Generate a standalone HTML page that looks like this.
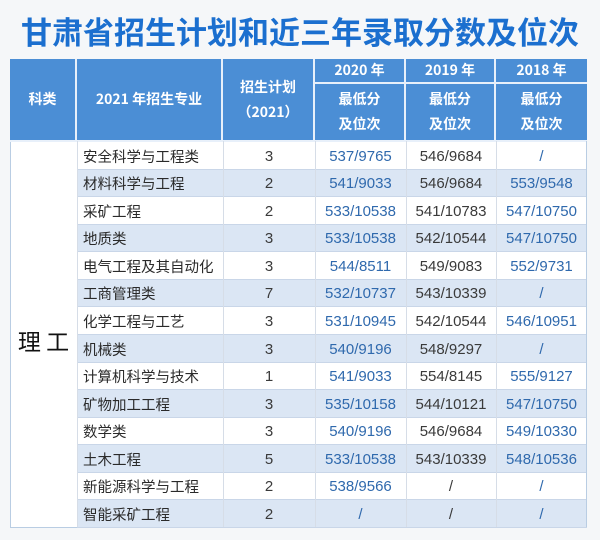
<!DOCTYPE html>
<html><head><meta charset="utf-8">
<style>
*{margin:0;padding:0;box-sizing:border-box}
body{width:600px;height:540px;background:#f5f7f9;position:relative;overflow:hidden;font-family:"Liberation Sans","Noto Sans CJK SC",sans-serif}
.title{position:absolute;left:0;top:11px;width:600px;text-align:center;font-size:31px;font-weight:bold;color:#1b6fcf;line-height:40px;letter-spacing:0px;font-family:"Noto Sans CJK SC","Liberation Sans",sans-serif}
.c{position:absolute;display:flex;align-items:center;justify-content:center;text-align:center}
.h{background:#4b8ed5;color:#fff;font-weight:bold;font-size:14px;border-right:2px solid #e8f0fa;border-bottom:2px solid #e8f0fa;font-family:"Noto Sans CJK SC","Liberation Sans",sans-serif;line-height:25px}
.r{position:absolute;left:77px;width:510px;border-bottom:1px solid #c9d6e8}
.alt{background:#dbe6f4}
.d{position:absolute;font-size:15px;display:flex;align-items:center;justify-content:center}
.nm{justify-content:flex-start;padding-left:6px;font-size:14.5px;color:#2a2a2a;font-family:"Noto Sans CJK SC","Liberation Sans",sans-serif}
.b{color:#2f69ad}
.k{color:#3a3a3a}
.vl{position:absolute;top:141px;height:386px;width:1px;background:#d6dde7}
</style></head><body>
<div class="title">甘肃省招生计划和近三年录取分数及位次</div>

<div class="c h" style="left:10px;top:59px;width:67px;height:83px">科类</div>
<div class="c h" style="left:77px;top:59px;width:146px;height:83px">2021 年招生专业</div>
<div class="c h" style="left:223px;top:59px;width:92px;height:83px">招生计划<br>（2021）</div>
<div class="c h" style="left:315px;top:59px;width:91px;height:25px">2020 年</div>
<div class="c h" style="left:406px;top:59px;width:90px;height:25px">2019 年</div>
<div class="c h" style="left:496px;top:59px;width:91px;height:25px;border-right:none">2018 年</div>
<div class="c h" style="left:315px;top:84px;width:91px;height:58px">最低分<br>及位次</div>
<div class="c h" style="left:406px;top:84px;width:90px;height:58px">最低分<br>及位次</div>
<div class="c h" style="left:496px;top:84px;width:91px;height:58px;border-right:none">最低分<br>及位次</div>

<div style="position:absolute;left:10px;top:142px;width:67px;height:386px;background:#fff;border-left:1px solid #b9cde3;border-bottom:1px solid #b9cde3"></div>
<div class="c" style="left:10px;top:322px;width:67px;height:36px;font-size:23px;color:#111;font-family:'Noto Sans CJK SC',sans-serif">理&nbsp;工</div>

<div id="rows"></div>
<script>
var data=[
["安全科学与工程类","3","537/9765","546/9684","/"],
["材料科学与工程","2","541/9033","546/9684","553/9548"],
["采矿工程","2","533/10538","541/10783","547/10750"],
["地质类","3","533/10538","542/10544","547/10750"],
["电气工程及其自动化","3","544/8511","549/9083","552/9731"],
["工商管理类","7","532/10737","543/10339","/"],
["化学工程与工艺","3","531/10945","542/10544","546/10951"],
["机械类","3","540/9196","548/9297","/"],
["计算机科学与技术","1","541/9033","554/8145","555/9127"],
["矿物加工工程","3","535/10158","544/10121","547/10750"],
["数学类","3","540/9196","546/9684","549/10330"],
["土木工程","5","533/10538","543/10339","548/10536"],
["新能源科学与工程","2","538/9566","/","/"],
["智能采矿工程","2","/","/","/"]];
var h='';var rh=27.57;
for(var i=0;i<data.length;i++){
 var t=142+i*rh;var tt=Math.round(t),hh=Math.round(t+rh)-tt;
 h+='<div class="r'+(i%2?' alt':'')+'" style="top:'+tt+'px;height:'+hh+'px;background:'+(i%2?'#dbe6f4':'#fff')+'"></div>';
 var r=data[i];
 h+='<div class="d nm" style="left:77px;top:'+tt+'px;width:146px;height:'+hh+'px">'+r[0]+'</div>';
 h+='<div class="d k" style="left:223px;top:'+tt+'px;width:92px;height:'+hh+'px">'+r[1]+'</div>';
 h+='<div class="d b" style="left:315px;top:'+tt+'px;width:91px;height:'+hh+'px">'+r[2]+'</div>';
 h+='<div class="d k" style="left:406px;top:'+tt+'px;width:90px;height:'+hh+'px">'+r[3]+'</div>';
 h+='<div class="d b" style="left:496px;top:'+tt+'px;width:91px;height:'+hh+'px">'+r[4]+'</div>';
}
[77,223,315,406,496].forEach(function(x){h+='<div class="vl" style="left:'+x+'px"></div>'});
h+='<div class="vl" style="left:586px;background:#b9cde3"></div>';
document.getElementById('rows').innerHTML=h;
</script>
</body></html>
